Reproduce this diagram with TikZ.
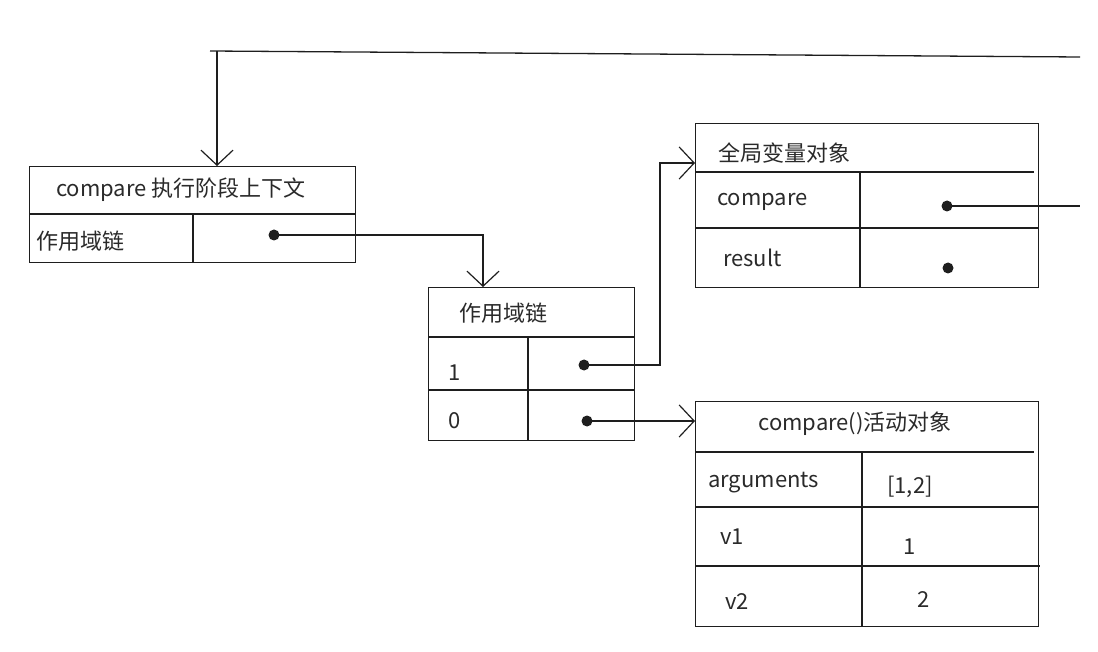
\documentclass[tikz,border=0pt]{standalone}
\usepackage{fontspec}
\setmainfont{Noto Sans CJK SC}
\usetikzlibrary{arrows.meta,calc}
\definecolor{ink}{HTML}{1E1E1E}
\definecolor{txt}{HTML}{2A2A2A}
\tikzset{
  ln/.style={draw=ink,line width=1.3pt},
  boxr/.style={ln,rectangle,inner sep=0pt,anchor=north west},
  lbl/.style={text=txt,inner sep=0pt,font=\fontsize{22}{25}\selectfont},
  dotn/.style={circle,fill=ink,inner sep=0pt,minimum size=11pt},
  arr/.style={ln,-{Straight Barb[length=15pt,width=32pt,line width=1.2pt]}},
}
\begin{document}
\begin{tikzpicture}[x=1pt,y=-1pt]
\useasboundingbox (0,0) rectangle (1098,652);
% box 1
\node[boxr,minimum width=326,minimum height=96] (b1) at (29,166) {};
\draw[ln] (29,214) -- (355,214) (193,214) -- (193,262);
\node[lbl] (b1t) at (181,190) {compare 执行阶段上下文};
\node[lbl,anchor=west] (b1a) at (36,241) {作用域链};
\node[dotn] (d1) at (274,235) {};
% box 2
\node[boxr,minimum width=206,minimum height=153] (b2) at (428,287) {};
\draw[ln] (428,337) -- (634,337) (428,390) -- (634,390) (528,337) -- (528,440);
\node[lbl] (b2t) at (503,313) {作用域链};
\node[lbl] (b2a) at (455,373) {1};
\node[lbl] (b2b) at (455,421) {0};
\node[dotn] (d2) at (584,365) {};
\node[dotn] (d3) at (587,421) {};
% box 3
\node[boxr,minimum width=343,minimum height=164] (b3) at (695,123) {};
\draw[ln] (695,172) -- (1034,172) (695,228) -- (1038,228) (860,172) -- (860,287);
\node[lbl,anchor=west] (b3t) at (718,153) {全局变量对象};
\node[lbl,anchor=west] (b3a) at (717,202) {compare};
\node[lbl,anchor=west] (b3b) at (723,258) {result};
\node[dotn] (d4) at (947,206) {};
\node[dotn] (d5) at (948,268) {};
% box 4
\node[boxr,minimum width=343,minimum height=225] (b4) at (695,401) {};
\draw[ln] (695,452) -- (1034,452) (695,507) -- (1038,507) (695,566) -- (1040,566) (862,452) -- (862,626);
\node[lbl] (b4t) at (855,424) {compare()活动对象};
\node[lbl,anchor=west] (b4a) at (708,483) {arguments};
\node[lbl] (b4b) at (910,487) {[1,2]};
\node[lbl] (b4c) at (732,537) {v1};
\node[lbl] (b4d) at (910,547) {1};
\node[lbl] (b4e) at (737,602) {v2};
\node[lbl] (b4f) at (924,600) {2};
% connector targets
\coordinate (t1) at (217,166);
\coordinate (t2) at (483,287);
\coordinate (t3) at (695,163);
\coordinate (t4) at (695,421);
\coordinate (gE) at (1080,57);
\coordinate (gW) at (217,51);
\coordinate (gS) at (210,51);
\coordinate (cE) at (1080,206);
\coordinate (k1) at (660,365);
% connectors
\draw[ln] (gE) -- (gS);
\draw[arr] (gW) -- (t1);
\draw[arr] (d1.center) -| (t2);
\draw[arr] (d2.center) -- (k1) |- (t3);
\draw[arr] (d3.center) -- (t4);
\draw[ln] (d4.center) -- (cE);
\end{tikzpicture}
\end{document}
